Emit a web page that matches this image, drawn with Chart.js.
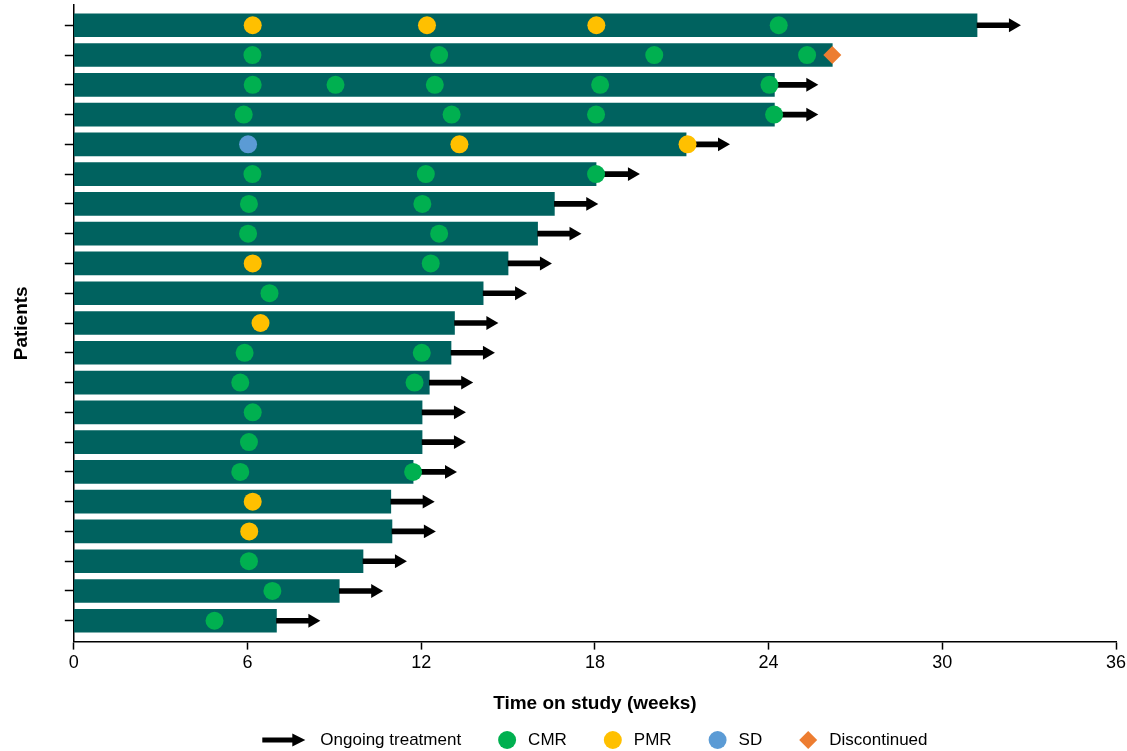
<!DOCTYPE html>
<html>
<head>
<meta charset="utf-8">
<title>Time on study</title>
<script src="https://cdn.jsdelivr.net/npm/chart.js@4.4.1/dist/chart.umd.min.js"></script>
<style>
  html, body { margin: 0; padding: 0; background: #fff; }
  #wrap { width: 1127px; height: 751px; position: relative; }
</style>
</head>
<body>
<div id="wrap"><canvas id="swimmer"></canvas></div>
<script>
// one entry per patient, top row first
const weeksOnStudy = [31.2, 26.2, 24.2, 24.2, 21.15, 18.04, 16.6, 16.02, 15.0, 14.14,
                      13.15, 13.03, 12.28, 12.03, 12.03, 11.72, 10.95, 10.99, 9.99, 9.17, 7.0];
const ongoing = [true, false, true, true, true, true, true, true, true, true,
                 true, true, true, true, true, true, true, true, true, true, true];

// response assessments (weeks) per patient
const cmrWeeks = [
  [24.35], [6.17, 12.62, 20.05, 25.33], [6.18, 9.04, 12.47, 18.18, 24.03], [5.87, 13.05, 18.04, 24.19],
  [], [6.17, 12.16, 18.04], [6.05, 12.04], [6.02, 12.62], [12.33], [6.76],
  [], [5.9, 12.02], [5.75, 11.77], [6.18], [6.05], [5.75, 11.72], [], [], [6.05], [6.86], [4.86]
];
const pmrWeeks = [
  [6.18, 12.2, 18.05], [], [], [], [13.32, 21.2], [], [], [], [6.18], [],
  [6.45], [], [], [], [], [], [6.18], [6.06], [], [], []
];
const sdWeeks = [
  [], [], [], [], [6.02], [], [], [], [], [],
  [], [], [], [], [], [], [], [], [], [], []
];
const discontinuedWeeks = [null, 26.2, null, null, null, null, null, null, null, null,
                           null, null, null, null, null, null, null, null, null, null, null];

const xTicks = [0, 6, 12, 18, 24, 30, 36];

const TEAL = '#00625f';
const CMR = '#00b050';
const PMR = '#ffc000';
const SD = '#5b9bd5';
const DISC = '#ed7d31';

// arrow geometry in weeks, measured from the end of the bar
const SHAFT_LEN = 1.15;
const HEAD_POS = 1.24;

const FONT = 'Arial, "Liberation Sans", Helvetica, sans-serif';
Chart.defaults.font.family = FONT;
Chart.defaults.color = '#000';

const toPoints = lists => lists.flatMap((weeks, i) => weeks.map(w => ({ x: w, y: i + 1 })));

const bars = weeksOnStudy.map((w, i) => ({ x: w, y: i + 1 }));
const shafts = weeksOnStudy.map((w, i) => ongoing[i] ? { x: [w, w + SHAFT_LEN], y: i + 1 } : null).filter(Boolean);
const heads = weeksOnStudy.map((w, i) => ongoing[i] ? { x: w + HEAD_POS, y: i + 1 } : null).filter(Boolean);
const discPoints = discontinuedWeeks.map((w, i) => w === null ? null : { x: w, y: i + 1 }).filter(Boolean);

// legend drawn under the plot, centred on the x axis
const legendItems = [
  { text: 'Ongoing treatment', icon: 'arrow', color: '#000' },
  { text: 'CMR', icon: 'circle', color: CMR },
  { text: 'PMR', icon: 'circle', color: PMR },
  { text: 'SD', icon: 'circle', color: SD },
  { text: 'Discontinued', icon: 'diamond', color: DISC }
];

const swimmerLegend = {
  id: 'swimmerLegend',
  afterDraw(chart) {
    const { ctx, chartArea } = chart;
    const y = 740;
    ctx.save();
    ctx.font = '17px ' + FONT;
    ctx.textBaseline = 'middle';
    const sizes = legendItems.map(it => {
      const iconW = it.icon === 'arrow' ? 43 : 18;
      const gap = it.icon === 'arrow' ? 15 : 12;
      return { iconW, gap, textW: ctx.measureText(it.text).width };
    });
    const between = 37;
    const total = sizes.reduce((s, z) => s + z.iconW + z.gap + z.textW, 0) + between * (sizes.length - 1);
    let x = (chartArea.left + chartArea.right) / 2 - total / 2;
    legendItems.forEach((it, k) => {
      const z = sizes[k];
      ctx.fillStyle = it.color;
      if (it.icon === 'arrow') {
        ctx.fillRect(x, y - 2.5, 32, 5);
        ctx.beginPath();
        ctx.moveTo(x + 30, y - 6.5);
        ctx.lineTo(x + 43, y);
        ctx.lineTo(x + 30, y + 6.5);
        ctx.closePath();
        ctx.fill();
      } else if (it.icon === 'circle') {
        ctx.beginPath();
        ctx.arc(x + 9, y, 9, 0, Math.PI * 2);
        ctx.fill();
      } else {
        ctx.beginPath();
        ctx.moveTo(x + 9, y - 9);
        ctx.lineTo(x + 18, y);
        ctx.lineTo(x + 9, y + 9);
        ctx.lineTo(x, y);
        ctx.closePath();
        ctx.fill();
      }
      x += z.iconW + z.gap;
      ctx.fillStyle = '#000';
      ctx.fillText(it.text, x, y);
      x += z.textW + between;
    });
    ctx.restore();
  }
};

const markerDataset = (label, data, color, style, radius) => ({
  type: 'scatter',
  label,
  data,
  order: 0,
  pointStyle: style,
  pointRadius: radius,
  pointHoverRadius: radius,
  pointBackgroundColor: color,
  pointBorderWidth: 0,
  borderColor: color
});

new Chart(document.getElementById('swimmer'), {
  type: 'bar',
  data: {
    datasets: [
      {
        label: 'Time on study',
        data: bars,
        indexAxis: 'y',
        grouped: false,
        backgroundColor: TEAL,
        barThickness: 23,
        order: 3
      },
      {
        label: 'Ongoing treatment',
        data: shafts,
        indexAxis: 'y',
        grouped: false,
        backgroundColor: '#000',
        barThickness: 5,
        order: 2
      },
      {
        type: 'scatter',
        label: 'Ongoing treatment head',
        data: heads,
        order: 1,
        pointStyle: 'triangle',
        rotation: 90,
        pointRadius: 8,
        pointHoverRadius: 8,
        pointBackgroundColor: '#000',
        pointBorderWidth: 0
      },
      markerDataset('CMR', toPoints(cmrWeeks), CMR, 'circle', 9),
      markerDataset('PMR', toPoints(pmrWeeks), PMR, 'circle', 9),
      markerDataset('SD', toPoints(sdWeeks), SD, 'circle', 9),
      markerDataset('Discontinued', discPoints, DISC, 'rectRot', 9)
    ]
  },
  options: {
    responsive: true,
    maintainAspectRatio: false,
    animation: false,
    events: [],
    layout: { autoPadding: false, padding: { top: 5, right: 11, bottom: 30, left: 0 } },
    plugins: {
      legend: { display: false },
      tooltip: { enabled: false }
    },
    scales: {
      x: {
        type: 'linear',
        offset: false,
        min: 0,
        max: 36,
        afterBuildTicks: axis => { axis.ticks = xTicks.map(v => ({ value: v })); },
        afterFit: axis => { axis.paddingRight = 11; },
        ticks: { font: { size: 18 }, padding: 3, color: '#000' },
        grid: { offset: false, drawOnChartArea: false, tickLength: 8, color: '#000', tickWidth: 1.5 },
        border: { color: '#000', width: 1.5 },
        title: {
          display: true,
          text: 'Time on study (weeks)',
          font: { size: 19, weight: 'bold' },
          padding: { top: 15, bottom: 6 }
        }
      },
      y: {
        type: 'linear',
        offset: false,
        reverse: true,
        min: 0.32,
        max: 21.7,
        afterBuildTicks: axis => { axis.ticks = weeksOnStudy.map((_, i) => ({ value: i + 1 })); },
        afterFit: axis => { axis.paddingTop = 0; axis.paddingBottom = 0; },
        ticks: { display: false },
        grid: { offset: false, drawOnChartArea: false, tickLength: 9, color: '#000', tickWidth: 1.5 },
        border: { color: '#000', width: 1.5 },
        title: {
          display: true,
          text: 'Patients',
          font: { size: 19, weight: 'bold' },
          padding: { top: 10, bottom: 32 }
        }
      }
    }
  },
  plugins: [swimmerLegend]
});
</script>
</body>
</html>
